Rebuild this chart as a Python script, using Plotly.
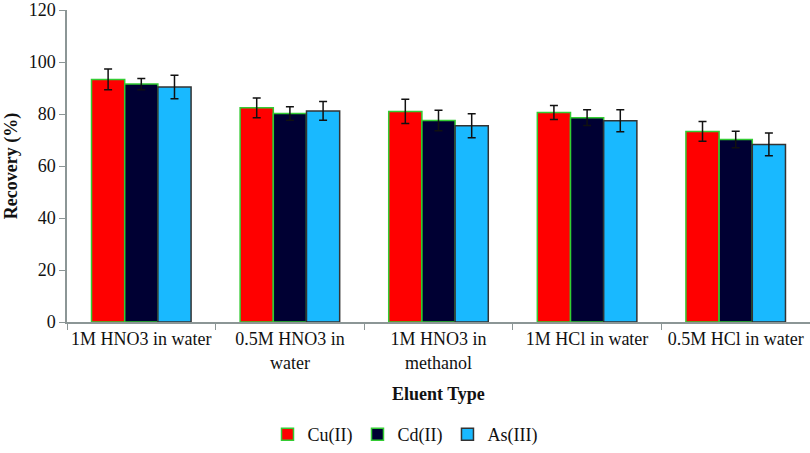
import plotly.graph_objects as go

categories = ["1M HNO3 in water", "0.5M HNO3 in<br>water", "1M HNO3 in<br>methanol",
              "1M HCl in water", "0.5M HCl in water"]
cu = [93.3, 82.4, 81.0, 80.6, 73.3]
cu_err = [4.0, 3.8, 4.7, 2.7, 3.8]
cd = [91.5, 80.2, 77.5, 78.6, 70.2]
cd_err = [2.2, 2.6, 3.9, 3.0, 3.2]
as_ = [90.4, 81.2, 75.5, 77.4, 68.3]
as_err = [4.5, 3.6, 4.6, 4.2, 4.4]
y_ticks = [0, 20, 40, 60, 80, 100, 120]

series = [
    ("Cu(II)", cu, cu_err, "#ff0000", "#33cc33"),
    ("Cd(II)", cd, cd_err, "#000033", "#33cc33"),
    ("As(III)", as_, as_err, "#19b9ff", "#333333"),
]

fig = go.Figure()
for name, vals, errs, fill, edge in series:
    fig.add_trace(go.Bar(
        name=name, x=categories, y=vals,
        marker=dict(color=fill, line=dict(color=edge, width=1.5)),
        error_y=dict(type="data", array=errs, visible=True, color="#111111",
                     thickness=1.5, width=4),
    ))

font = '"Liberation Serif", "Times New Roman", serif'
top, bottom = 10, 131
plot_h = 453 - top - bottom
fig.update_layout(
    barmode="group", bargap=0.33, bargroupgap=0,
    width=810, height=453,
    margin=dict(l=67, r=0, t=top, b=bottom),
    paper_bgcolor="white", plot_bgcolor="white",
    font=dict(family=font, size=18, color="#111111"),
    showlegend=True,
    legend=dict(orientation="h", xref="container", x=0.5, xanchor="center",
                yref="container", y=0.0, yanchor="bottom",
                font=dict(size=18, family=font), itemwidth=30, traceorder="normal"),
    xaxis=dict(showline=True, linecolor="#8c9696", linewidth=1.5, automargin=False,
               tickangle=0,
               ticks="outside", tickson="boundaries", ticklen=6, tickcolor="#8c9696",
               tickfont=dict(size=18, family=font)),
    yaxis=dict(range=[0, 120], tickvals=y_ticks, showline=True, linecolor="#8c9696",
               linewidth=1.5, ticks="outside", ticklen=6, tickcolor="#8c9696", showgrid=False,
               zeroline=False, ticklabeloverflow="allow", automargin=False,
               title=dict(text="<b>Recovery (%)</b>", font=dict(size=18, family=font), standoff=6),
               tickfont=dict(size=18, family=font)),
    annotations=[dict(text="<b>Eluent Type</b>", xref="paper", yref="paper",
                      x=0.5, y=-72 / plot_h, xanchor="center", yanchor="middle",
                      showarrow=False, font=dict(size=18, family=font))],
)
fig.write_html("out.html")
